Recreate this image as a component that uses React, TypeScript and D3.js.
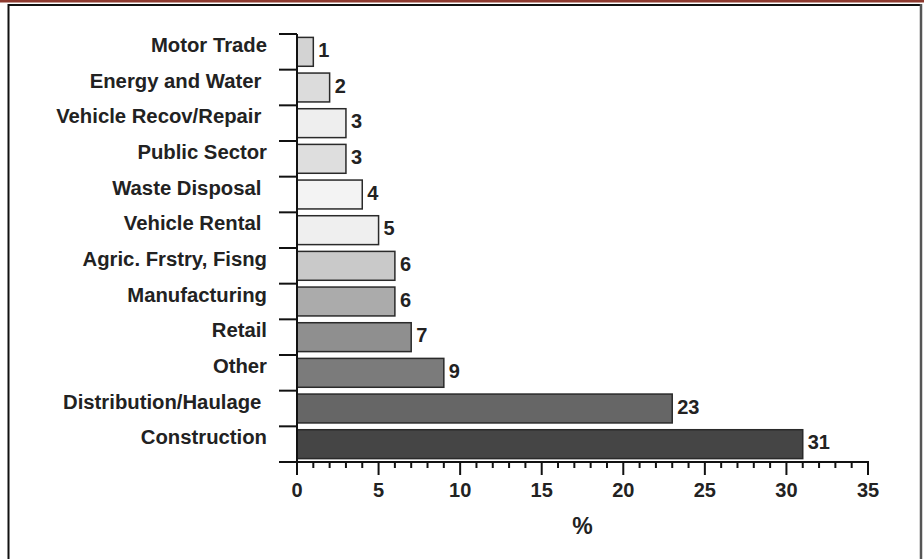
import React from "react";
import * as d3 from "d3";

// Share of incidents by sector, percent (top to bottom)
const categories = [
  "Motor Trade",
  "Energy and Water ",
  "Vehicle Recov/Repair ",
  "Public Sector",
  "Waste Disposal ",
  "Vehicle Rental ",
  "Agric. Frstry, Fisng",
  "Manufacturing",
  "Retail",
  "Other",
  "Distribution/Haulage ",
  "Construction",
];
const values = [1, 2, 3, 3, 4, 5, 6, 6, 7, 9, 23, 31];
const barFills = [
  "#d3d3d3",
  "#dcdcdc",
  "#eeeeee",
  "#dedede",
  "#f3f3f3",
  "#efefef",
  "#c9c9c9",
  "#ababab",
  "#8f8f8f",
  "#7b7b7b",
  "#666666",
  "#454545",
];
const majorTicks = [0, 5, 10, 15, 20, 25, 30, 35];
const axisTitle = "%";

const W = 924;
const H = 559;
const FONT = "'Liberation Sans', Arial, Helvetica, sans-serif";
const INK = "#222";

export default function App() {
  const x = d3.scaleLinear().domain([0, 35]).range([297, 868]);
  const y = d3.scaleBand<string>().domain(categories).range([34, 462]).paddingInner(0.19).paddingOuter(0.095);
  const step = y.step();
  const axisY = 462;
  const minorTicks = d3.range(0, 36, 1).filter((v) => v % 5 !== 0);
  const boundaries = d3.range(0, categories.length).map((i) => 34 + i * step);

  return (
    <svg
      width={W}
      height={H}
      viewBox={`0 0 ${W} ${H}`}
      style={{ position: "absolute", left: 0, top: 0, background: "#fff" }}
      fontFamily={FONT}
    >
      {/* page header rule and frame */}
      <rect x={0} y={0} width={W} height={2.5} fill="#8e3a2f" />
      <line x1={8} x2={922} y1={5} y2={5} stroke="#111" strokeWidth={2} />
      <line x1={8.5} x2={8.5} y1={4} y2={H} stroke="#111" strokeWidth={2} />
      <line x1={921} x2={921} y1={4} y2={H} stroke="#555" strokeWidth={2.5} />

      {/* bars */}
      {categories.map((c, i) => (
        <rect
          key={c}
          x={x(0)}
          y={y(c)!}
          width={x(values[i]) - x(0)}
          height={y.bandwidth()}
          fill={barFills[i]}
          stroke="#2a2a2a"
          strokeWidth={1.5}
        />
      ))}

      {/* value labels */}
      {categories.map((c, i) => (
        <text
          key={"v" + c}
          x={x(values[i]) + 5}
          y={y(c)! + y.bandwidth() / 2 - 2}
          dy="0.35em"
          fontSize={20}
          fontWeight="bold"
          fill={INK}
        >
          {values[i]}
        </text>
      ))}

      {/* category labels */}
      {categories.map((c, i) => (
        <text
          key={"c" + c}
          x={267}
          y={y(c)! + y.bandwidth() / 2 - 7}
          dy="0.35em"
          textAnchor="end"
          fontSize={20.3}
          fontWeight="bold"
          fill={INK}
          style={{ whiteSpace: "pre" }}
        >
          {c}
        </text>
      ))}

      {/* category axis */}
      <line x1={x(0)} x2={x(0)} y1={34} y2={axisY + 13} stroke="#111" strokeWidth={2} />
      {boundaries.map((b, i) => (
        <line key={"b" + i} x1={279} x2={x(0)} y1={b} y2={b} stroke="#111" strokeWidth={2} />
      ))}

      {/* value axis */}
      <line x1={279} x2={x(35) + 1} y1={axisY} y2={axisY} stroke="#111" strokeWidth={2} />
      {minorTicks.map((t) => (
        <line key={"m" + t} x1={x(t)} x2={x(t)} y1={axisY} y2={axisY + 6} stroke="#111" strokeWidth={2} />
      ))}
      {majorTicks.map((t) => (
        <g key={"t" + t}>
          <line x1={x(t)} x2={x(t)} y1={axisY} y2={axisY + 13} stroke="#111" strokeWidth={2} />
          <text x={x(t)} y={497} textAnchor="middle" fontSize={20} fontWeight="bold" fill={INK}>
            {t}
          </text>
        </g>
      ))}
      <text x={(x(0) + x(35)) / 2} y={534} textAnchor="middle" fontSize={23} fontWeight="bold" fill={INK}>
        {axisTitle}
      </text>
    </svg>
  );
}
